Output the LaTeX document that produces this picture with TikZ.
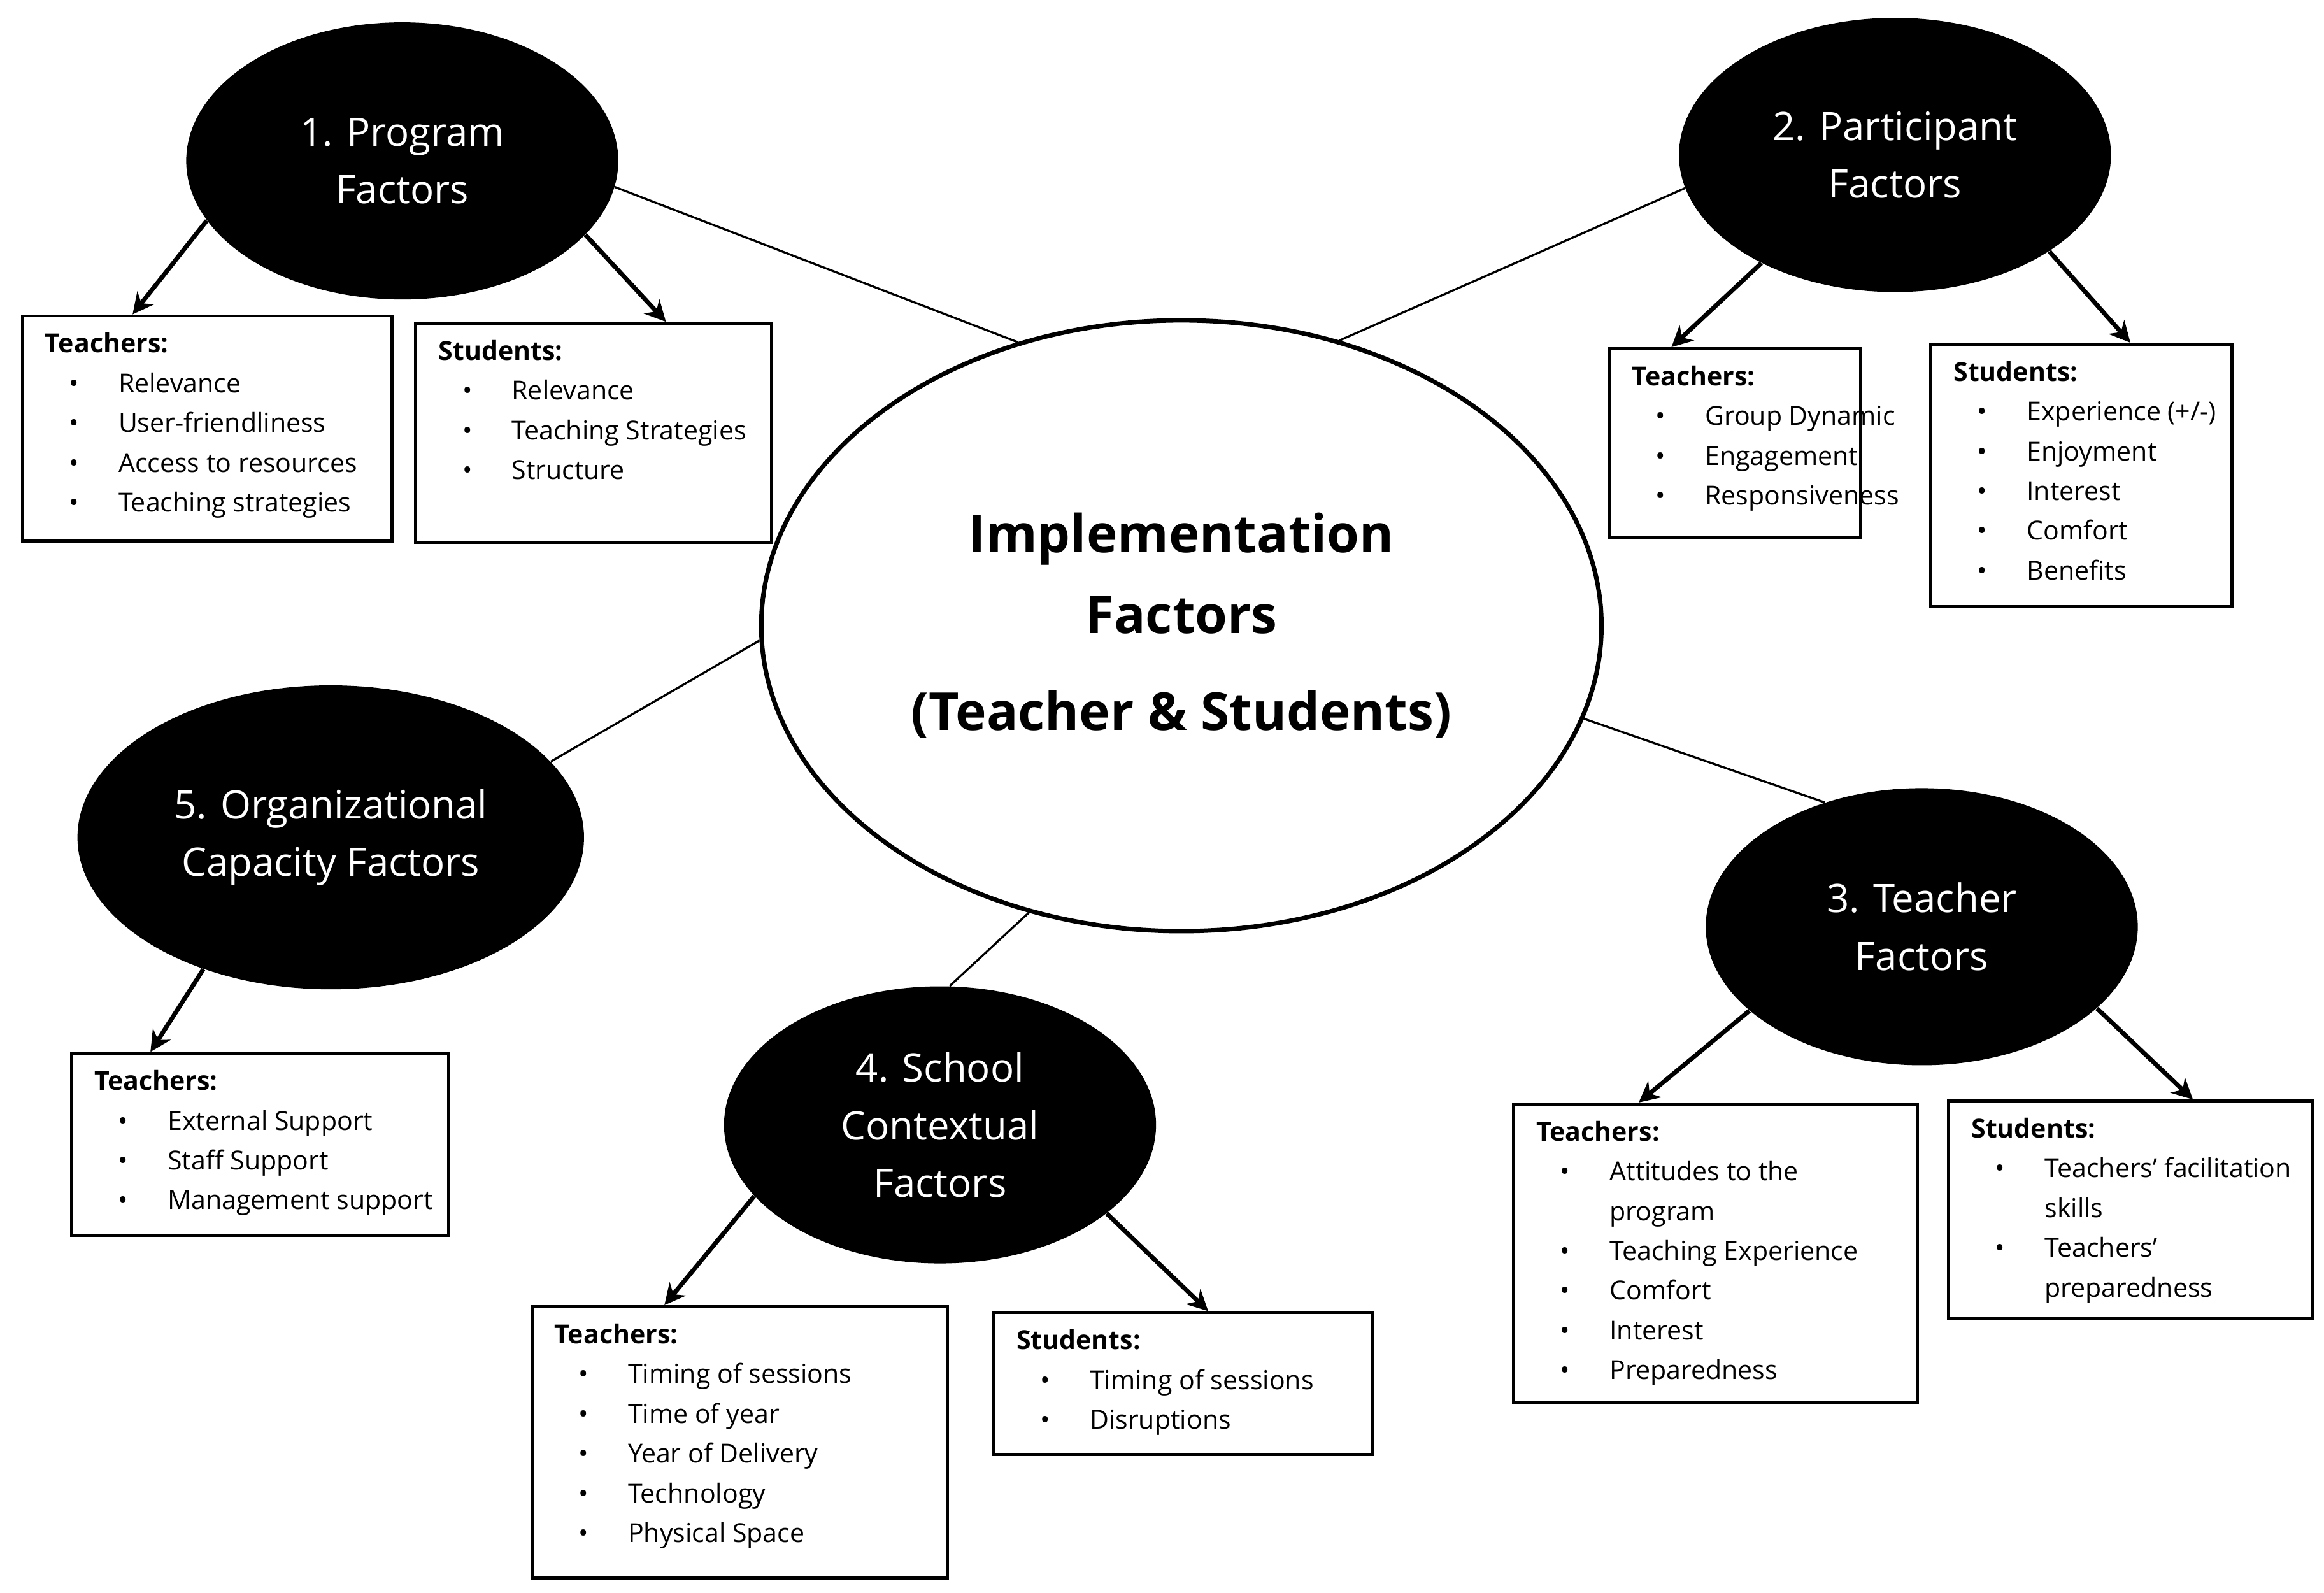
\documentclass[tikz,border=0pt]{standalone}
\usepackage{fontspec}
\setmainfont{Open Sans}
\usetikzlibrary{shapes.geometric,arrows.meta}
\newcommand{\bul}{\hspace*{11pt}\makebox[0pt]{\textbullet}\hspace*{17pt}}
\newcommand{\cnt}{\hspace*{28pt}}
\begin{document}
\begin{tikzpicture}[x=0.02cm,y=-0.02cm,
  blk/.style={ellipse,fill=black,text=white,font=\fontsize{15}{22}\selectfont,align=center,inner sep=0},
  box/.style={draw,line width=1.2pt,anchor=north west},
  txt/.style={anchor=north west,align=left,inner sep=0,font=\fontsize{10}{15.2}\selectfont},
  ln/.style={line width=0.8pt},
  arr/.style={line width=1.7pt,-{Stealth[length=8pt,width=8pt]}}]
\useasboundingbox (0,0) rectangle (1560,1069);
\node[ellipse,draw,line width=1.7pt,minimum width=564*0.02cm,minimum height=410*0.02cm,align=center,font=\fontsize{20}{31}\selectfont\bfseries] (c) at (793,420) {Implementation\\Factors\\[6pt](Teacher \& Students)};
\node[blk,minimum width=290*0.02cm,minimum height=186*0.02cm] (p1) at (270,108) {1. Program\\Factors};
\node[blk,minimum width=290*0.02cm,minimum height=184*0.02cm] (p2) at (1272,104) {2. Participant\\Factors};
\node[blk,minimum width=290*0.02cm,minimum height=186*0.02cm] (p3) at (1290,622) {3. Teacher\\Factors};
\node[blk,minimum width=290*0.02cm,minimum height=186*0.02cm] (p4) at (631,755) {4. School\\Contextual\\Factors};
\node[blk,minimum width=340*0.02cm,minimum height=204*0.02cm] (p5) at (222,562) {5. Organizational\\Capacity Factors};
\draw[ln] (p1.-7) -- (c.120);
\draw[ln] (p2.189) -- (c.61);
\draw[ln] (p5.19) -- (c.182);
\draw[ln] (p4.86) -- (c.242);
\draw[ln] (p3.128) -- (c.-13);
% boxes
\node[box,minimum width=248*0.02cm,minimum height=151*0.02cm] (b1t) at (14,211) {};
\node[box,minimum width=239*0.02cm,minimum height=147*0.02cm] (b1s) at (278,216) {};
\node[box,minimum width=169*0.02cm,minimum height=127*0.02cm] (b2t) at (1079,233) {};
\node[box,minimum width=202*0.02cm,minimum height=176*0.02cm] (b2s) at (1295,230) {};
\node[box,minimum width=253*0.02cm,minimum height=122*0.02cm] (b5t) at (47,706) {};
\node[box,minimum width=279*0.02cm,minimum height=182*0.02cm] (b4t) at (356,876) {};
\node[box,minimum width=254*0.02cm,minimum height=95*0.02cm] (b4s) at (666,880) {};
\node[box,minimum width=271*0.02cm,minimum height=200*0.02cm] (b3t) at (1015,740) {};
\node[box,minimum width=244*0.02cm,minimum height=146*0.02cm] (b3s) at (1307,738) {};
% texts
\node[txt] (t1t) at ([xshift=16*0.02cm,yshift=-12*0.02cm]b1t.north west) {\textbf{Teachers:}\\\bul Relevance\\\bul User-friendliness\\\bul Access to resources\\\bul Teaching strategies};
\node[txt] (t1s) at ([xshift=16*0.02cm,yshift=-12*0.02cm]b1s.north west) {\textbf{Students:}\\\bul Relevance\\\bul Teaching Strategies\\\bul Structure};
\node[txt] (t2t) at ([xshift=16*0.02cm,yshift=-12*0.02cm]b2t.north west) {\textbf{Teachers:}\\\bul Group Dynamic\\\bul Engagement\\\bul Responsiveness};
\node[txt] (t2s) at ([xshift=16*0.02cm,yshift=-12*0.02cm]b2s.north west) {\textbf{Students:}\\\bul Experience (+/-)\\\bul Enjoyment\\\bul Interest\\\bul Comfort\\\bul Benefits};
\node[txt] (t5t) at ([xshift=16*0.02cm,yshift=-12*0.02cm]b5t.north west) {\textbf{Teachers:}\\\bul External Support\\\bul Staff Support\\\bul Management support};
\node[txt] (t4t) at ([xshift=16*0.02cm,yshift=-12*0.02cm]b4t.north west) {\textbf{Teachers:}\\\bul Timing of sessions\\\bul Time of year\\\bul Year of Delivery\\\bul Technology\\\bul Physical Space};
\node[txt] (t4s) at ([xshift=16*0.02cm,yshift=-12*0.02cm]b4s.north west) {\textbf{Students:}\\\bul Timing of sessions\\\bul Disruptions};
\node[txt] (t3t) at ([xshift=16*0.02cm,yshift=-12*0.02cm]b3t.north west) {\textbf{Teachers:}\\\bul Attitudes to the\\\cnt program\\\bul Teaching Experience\\\bul Comfort\\\bul Interest\\\bul Preparedness};
\node[txt] (t3s) at ([xshift=16*0.02cm,yshift=-12*0.02cm]b3s.north west) {\textbf{Students:}\\\bul Teachers’ facilitation\\\cnt skills\\\bul Teachers’\\\cnt preparedness};
% arrows
\draw[arr] (p1.197) -- ([xshift=75*0.02cm]b1t.north west);
\draw[arr] (p1.-22) -- ([xshift=169*0.02cm]b1s.north west);
\draw[arr] (p2.219) -- ([xshift=43*0.02cm]b2t.north west);
\draw[arr] (p2.-32) -- ([xshift=135*0.02cm]b2s.north west);
\draw[arr] (p5.226) -- ([xshift=54*0.02cm]b5t.north west);
\draw[arr] (p4.201) -- ([xshift=90*0.02cm]b4t.north west);
\draw[arr] (p4.-28) -- ([xshift=145*0.02cm]b4s.north west);
\draw[arr] (p3.206) -- ([xshift=85*0.02cm]b3t.north west);
\draw[arr] (p3.-25) -- ([xshift=165*0.02cm]b3s.north west);
\end{tikzpicture}
\end{document}
